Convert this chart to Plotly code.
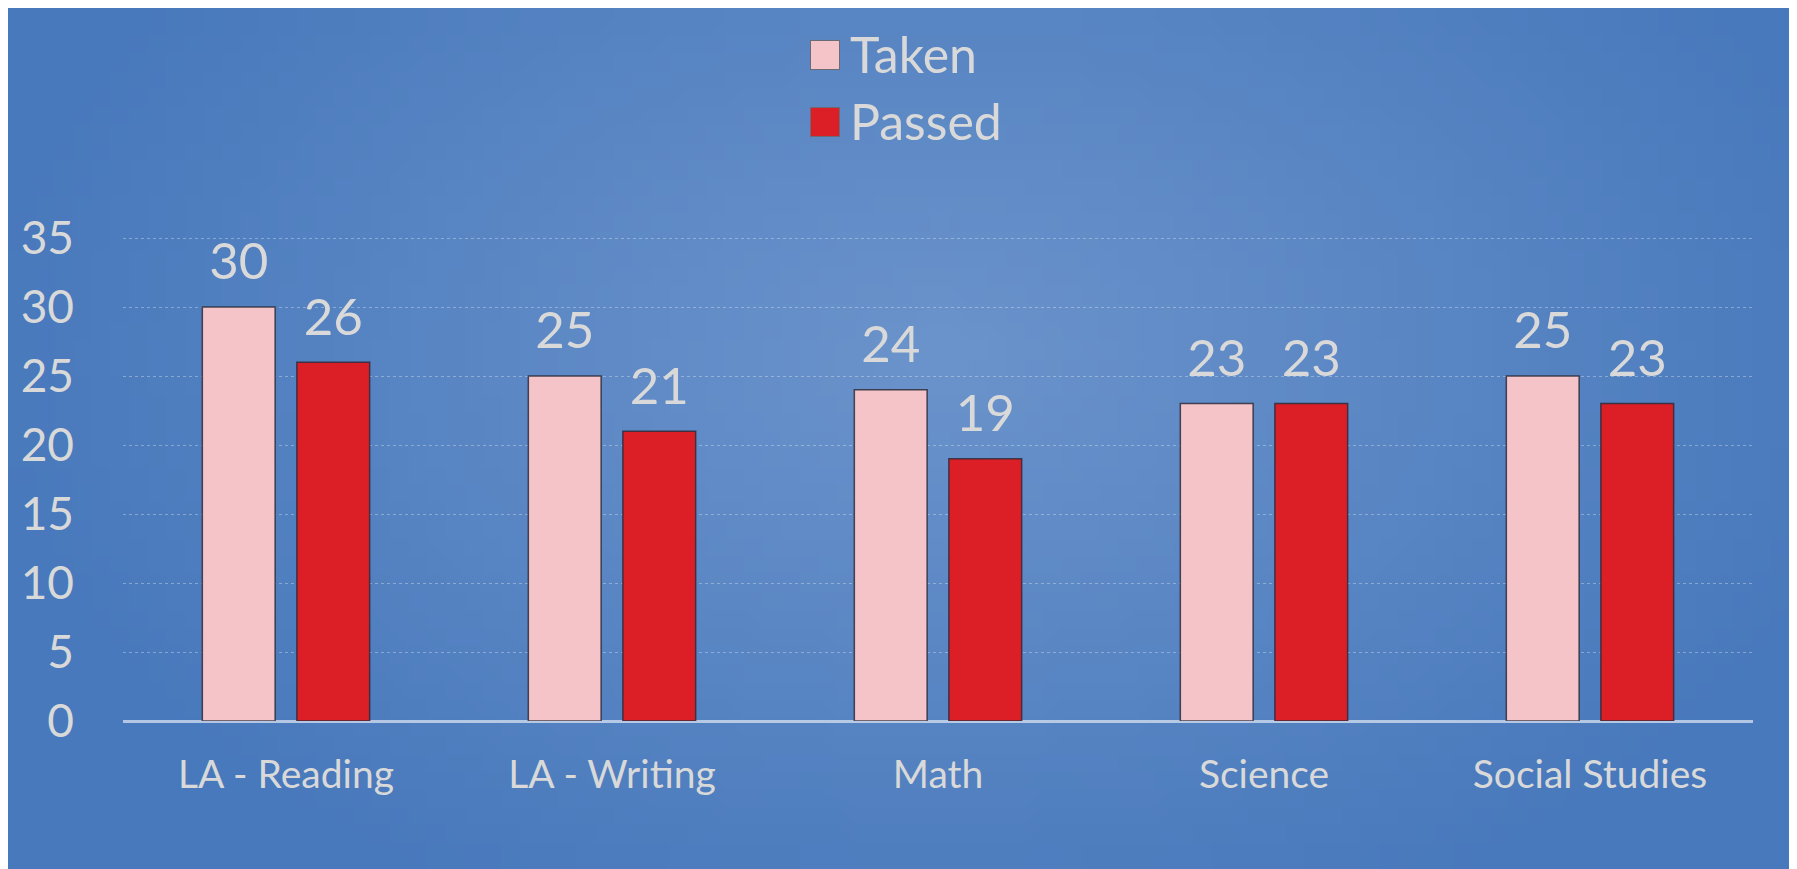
import base64
import struct
import zlib

import plotly.graph_objects as go

# chart data
categories = ["LA - Reading", "LA - Writing", "Math", "Science", "Social Studies"]
taken = [30, 25, 24, 23, 25]
passed = [26, 21, 19, 23, 23]
series_names = ["Taken", "Passed"]
series_colors = ["#f5c4c8", "#dc1e26"]
y_ticks = [0, 5, 10, 15, 20, 25, 30, 35]

# page body keeps its 8px default margin, so the figure is 8px smaller
W, H = 1789, 861
TXT = "#d9d9d9"
FONT = "Lato, 'Open Sans', sans-serif"
Y_TOP = 35.1  # a hair above the last tick so its gridline gets drawn


def backdrop_uri(w=96, h=48):
    # soft elliptical glow, lighter in the middle, darker blue to the edges
    c_in, c_out = (108, 148, 204), (72, 121, 188)
    rows = b""
    for j in range(h):
        row = bytearray([0])
        for i in range(w):
            dx = (i / (w - 1) - 0.52) / 0.55
            dy = (j / (h - 1) - 0.40) / 0.75
            t = min(1.0, (dx * dx + dy * dy) ** 0.5)
            row += bytes(int(a + (b - a) * t) for a, b in zip(c_in, c_out))
        rows += bytes(row)

    def chunk(tag, data):
        return struct.pack(">I", len(data)) + tag + data + struct.pack(">I", zlib.crc32(tag + data) & 0xFFFFFFFF)

    png = b"\x89PNG\r\n\x1a\n" + chunk(b"IHDR", struct.pack(">IIBBBBB", w, h, 8, 2, 0, 0, 0))
    png += chunk(b"IDAT", zlib.compress(rows)) + chunk(b"IEND", b"")
    return "data:image/png;base64," + base64.b64encode(png).decode()


fig = go.Figure()

for name, vals, col in zip(series_names, [taken, passed], series_colors):
    fig.add_trace(go.Bar(
        x=categories, y=vals, name=name, offsetgroup=name,
        marker=dict(color=col, line=dict(color="rgba(45,45,60,0.85)", width=1.5)),
        showlegend=False, hoverinfo="x+y",
    ))
    # value labels, grouped the same way as the bars
    fig.add_trace(go.Scatter(
        x=categories, y=vals, offsetgroup=name, mode="markers+text",
        text=[str(v) for v in vals], textposition="top center",
        textfont=dict(size=51, color=TXT, family=FONT),
        marker=dict(size=22, opacity=0),
        cliponaxis=False, showlegend=False, hoverinfo="skip",
    ))

# legend drawn as swatch + label pairs
annotations = []
for i, (name, col) in enumerate(zip(series_names, series_colors)):
    yc = (H - 47 - i * 67) / H
    annotations.append(dict(
        xref="paper", yref="paper", x=817 / W, y=yc, xanchor="center", yanchor="middle",
        text=" ", showarrow=False, width=28, height=28, borderpad=0,
        bgcolor=col, bordercolor="#6b6b78", borderwidth=1,
    ))
    annotations.append(dict(
        xref="paper", yref="paper", x=840 / W, y=yc + 1 / H, xanchor="left", yanchor="middle",
        text=name, showarrow=False, font=dict(size=50, color=TXT, family=FONT),
    ))

px_per_unit = (713 - 230) / 35

fig.update_layout(
    width=W, height=H,
    margin=dict(l=0, r=0, t=0, b=0, autoexpand=False),
    paper_bgcolor="#4a79bb",
    plot_bgcolor="rgba(0,0,0,0)",
    font=dict(family=FONT, color=TXT),
    barmode="group", bargap=0.42, bargroupgap=0.23,
    scattermode="group", scattergap=0.42,
    annotations=annotations,
    images=[dict(
        source=backdrop_uri(), xref="paper", yref="paper", x=0, y=1,
        sizex=1, sizey=1, xanchor="left", yanchor="top", sizing="stretch", layer="below",
    )],
    shapes=[dict(
        type="rect", xref="paper", yref="paper", x0=1 - 2 / W, x1=1, y0=0, y1=1,
        fillcolor="#03142e", line=dict(width=0), layer="above",
    )],
    xaxis=dict(
        domain=[115 / W, 1745 / W],
        showgrid=False, showline=False, ticks="",
        tickfont=dict(size=39, color=TXT, family=FONT), ticklabelstandoff=27,
    ),
    yaxis=dict(
        domain=[(H - 713) / H, (H - 230 + (Y_TOP - 35) * px_per_unit) / H], range=[0, Y_TOP],
        tickvals=y_ticks, ticks="",
        tickfont=dict(size=46, color=TXT, family=FONT), ticklabelstandoff=48,
        showgrid=True, gridcolor="rgba(255,255,255,0.32)", griddash="dot", gridwidth=1,
        zeroline=True, zerolinecolor="rgba(215,225,242,0.75)", zerolinewidth=3,
        showline=False,
    ),
)

fig.write_html("out.html")
